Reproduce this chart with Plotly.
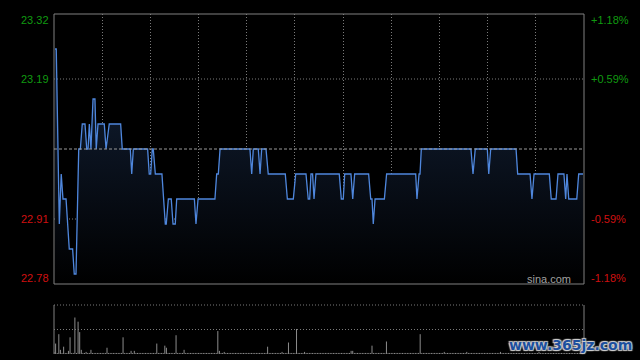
import plotly.graph_objects as go

W, H = 640, 360

# ---- data ----
prev_close = 23.05
price_levels = [22.78, 22.91, 23.19, 23.32]
pct_labels = ["-1.18%", "-0.59%", "+0.59%", "+1.18%"]
grid_minutes = [30, 60, 90, 120, 150, 180, 210, 240, 270, 300]
session_minutes = 330

price_minutes = [
    0.6, 1.4, 3.3, 4.5, 5.6, 7.5, 9.5, 11.6, 12.6, 13.7,
    15.4, 16.4, 17.6, 19.3, 20.4, 21.2, 22.0, 23.0, 24.3, 25.5,
    26.3, 27.4, 31.3, 32.4, 34.4, 41.5, 42.5, 47.5, 48.4, 49.4,
    58.3, 59.3, 60.2, 61.2, 61.8, 63.1, 67.2, 69.3, 69.9, 71.2,
    73.0, 74.1, 75.5, 76.4, 87.4, 88.4, 89.7, 100.2, 101.3, 102.3,
    103.4, 122.0, 123.1, 124.1, 127.2, 128.3, 129.3, 132.0, 133.4, 144.0,
    145.3, 149.0, 150.5, 156.9, 158.3, 159.2, 160.0, 161.0, 161.9, 163.1,
    177.6, 178.9, 180.1, 181.0, 184.9, 186.0, 187.2, 195.9, 197.2, 198.0,
    198.8, 199.9, 205.7, 207.1, 225.2, 226.0, 227.3, 227.9, 228.7, 259.6,
    260.9, 262.3, 269.8, 270.7, 271.9, 287.7, 288.7, 296.4, 297.6, 298.9,
    308.4, 309.6, 312.6, 313.8, 317.5, 318.6, 319.4, 320.5, 325.5, 326.7,
    329.4,
]
prices = [
    23.25, 23.25, 22.90, 23.00, 22.95, 22.95, 22.85, 22.85, 22.80, 22.80,
    23.05, 23.05, 23.10, 23.10, 23.05, 23.05, 23.10, 23.05, 23.15, 23.15,
    23.05, 23.10, 23.10, 23.05, 23.10, 23.10, 23.05, 23.05, 23.00, 23.05,
    23.05, 23.00, 23.00, 23.05, 23.05, 23.00, 23.00, 22.90, 22.90, 22.95,
    22.95, 22.90, 22.90, 22.95, 22.95, 22.90, 22.95, 22.95, 23.00, 23.00,
    23.05, 23.05, 23.00, 23.05, 23.05, 23.00, 23.05, 23.05, 23.00, 23.00,
    22.95, 22.95, 23.00, 23.00, 22.95, 22.95, 23.00, 23.00, 22.95, 23.00,
    23.00, 22.95, 22.95, 23.00, 23.00, 22.95, 23.00, 23.00, 22.95, 22.95,
    22.90, 22.95, 22.95, 23.00, 23.00, 22.95, 23.00, 23.00, 23.05, 23.05,
    23.00, 23.05, 23.05, 23.00, 23.05, 23.05, 23.00, 23.00, 22.95, 23.00,
    23.00, 22.95, 22.95, 23.00, 23.00, 22.95, 23.00, 22.95, 22.95, 23.00,
    23.00,
]

volumes = [
    2, 10, 1, 19, 4, 1, 7, 1, 1, 3, 16, 1, 1, 35, 1, 31, 21, 4, 1, 1, 2, 1, 1, 4, 1, 1, 1, 1, 1, 1,
    1, 1, 1, 6, 1, 1, 1, 1, 1, 1, 1, 1, 1, 16, 1, 1, 1, 1, 3, 1, 3, 1, 1, 1, 1, 1, 1, 1, 1, 1,
    1, 1, 1, 1, 10, 1, 1, 1, 1, 8, 6, 1, 1, 1, 1, 1, 18, 1, 1, 1, 1, 4, 1, 1, 1, 1, 1, 1, 1, 1,
    1, 1, 1, 1, 1, 1, 1, 1, 1, 1, 1, 1, 22, 3, 1, 1, 2, 1, 1, 1, 1, 1, 1, 1, 1, 1, 1, 1, 1, 1,
    1, 1, 1, 1, 1, 1, 1, 1, 1, 1, 1, 1, 1, 7, 1, 1, 1, 1, 1, 1, 1, 1, 2, 1, 1, 1, 11, 1, 1, 1,
    1, 24, 1, 1, 1, 1, 2, 1, 1, 1, 1, 1, 1, 1, 1, 1, 1, 1, 1, 1, 1, 1, 1, 1, 1, 1, 1, 1, 1, 1,
    1, 1, 1, 1, 1, 3, 3, 1, 1, 1, 1, 1, 1, 1, 1, 1, 1, 1, 8, 1, 1, 1, 1, 1, 1, 1, 1, 12, 1, 1,
    1, 1, 1, 1, 1, 1, 1, 1, 1, 1, 1, 1, 1, 1, 1, 1, 1, 1, 19, 1, 1, 1, 1, 1, 1, 1, 1, 1, 1, 1,
    1, 1, 1, 2, 1, 1, 1, 1, 1, 1, 1, 1, 1, 1, 1, 1, 1, 2, 1, 1, 1, 1, 1, 1, 1, 1, 1, 1, 1, 1,
    1, 1, 1, 1, 1, 1, 1, 1, 2, 1, 1, 1, 1, 1, 1, 1, 1, 1, 1, 1, 1, 1, 1, 1, 1, 1, 1, 1, 1, 1,
    1, 1, 2, 1, 1, 1, 1, 1, 1, 1, 1, 1, 1, 1, 1, 1, 1, 1, 1, 1, 1, 1, 1, 1, 1, 1, 1, 1, 1, 1,
]
vol_max = 47

# ---- layout geometry (pixels) ----
PX_L, PX_R = 54, 584
PR_T, PR_B = 14, 284
VO_T, VO_B = 305, 354

xd = [PX_L / W, PX_R / W]
yd_price = [1 - PR_B / H, 1 - PR_T / H]
yd_vol = [1 - VO_B / H, 1 - VO_T / H]

GREEN = "#109a10"
RED = "#d01010"
GRID = "#7a7a7a"
BORDER = "#808080"
FONT = "Liberation Sans, Arial, sans-serif"

fig = go.Figure()

fig.add_trace(go.Scatter(
    x=price_minutes, y=prices, mode="lines",
    line=dict(color="#4f87dd", width=1.3),
    fill="tozeroy",
    fillgradient=dict(type="vertical",
                      colorscale=[[0, "#000000"], [1, "#0f1a2c"]],
                      start=price_levels[0], stop=23.15),
    xaxis="x", yaxis="y", hoverinfo="skip",
))

# volume as vertical 1px sticks (one per minute)
vx, vy = [], []
for i, v in enumerate(volumes):
    vx += [i, i, None]
    vy += [0, v, None]
fig.add_trace(go.Scatter(
    x=vx, y=vy, mode="lines", connectgaps=False,
    line=dict(color="#8c8c8c", width=1),
    xaxis="x2", yaxis="y2", hoverinfo="skip",
))

shapes = []
# price panel border
shapes.append(dict(type="rect", xref="paper", yref="paper",
                   x0=xd[0], x1=xd[1], y0=yd_price[0], y1=yd_price[1],
                   line=dict(color=BORDER, width=1), layer="above"))
# horizontal grid
for lv in price_levels[1:3]:
    shapes.append(dict(type="line", xref="x", yref="y", x0=0, x1=session_minutes,
                       y0=lv, y1=lv, line=dict(color=GRID, width=1, dash="1px,2px"),
                       layer="below"))
shapes.append(dict(type="line", xref="x", yref="y", x0=0, x1=session_minutes,
                   y0=prev_close, y1=prev_close,
                   line=dict(color="#9a9a9a", width=1, dash="3px,2px"), layer="above"))
# volume panel lines
for yy in [VO_T, (VO_T + VO_B) / 2]:
    shapes.append(dict(type="line", xref="paper", yref="paper", x0=xd[0], x1=xd[1],
                       y0=1 - yy / H, y1=1 - yy / H,
                       line=dict(color=GRID, width=1, dash="1px,2px")))
for xx in xd:
    shapes.append(dict(type="line", xref="paper", yref="paper", x0=xx, x1=xx,
                       y0=yd_vol[0], y1=yd_vol[1], line=dict(color=BORDER, width=1)))

annotations = []
shifts = [6, 0, 0, -6]
for lv, pct, sh in zip(price_levels, pct_labels, shifts):
    col = GREEN if lv > prev_close else RED
    annotations.append(dict(xref="paper", yref="y", x=51 / W, y=lv, yshift=sh,
                            text=f"{lv:.2f}", showarrow=False, xanchor="right",
                            yanchor="middle", font=dict(color=col, size=11, family=FONT)))
    annotations.append(dict(xref="paper", yref="y", x=589 / W, y=lv, yshift=sh,
                            text=pct, showarrow=False, xanchor="left",
                            yanchor="middle", font=dict(color=col, size=11, family=FONT)))
annotations.append(dict(xref="paper", yref="paper", x=573 / W, y=1 - 279 / H,
                        text="sina.com", showarrow=False, xanchor="right", yanchor="middle",
                        font=dict(color="#a0a0a0", size=11, family=FONT)))
annotations.append(dict(xref="paper", yref="paper", x=634 / W, y=1 - 345 / H,
                        text="<b>www.365jz.com</b>", showarrow=False, xanchor="right",
                        yanchor="middle",
                        font=dict(color="#1c4f9e", size=14, family="DejaVu Sans",
                                  shadow="1px 1px 1px #d0d0d0, -1px -1px 1px #d0d0d0, 1px -1px 1px #d0d0d0, -1px 1px 1px #d0d0d0")))

axis_common = dict(showticklabels=False, ticks="", zeroline=False, showline=False,
                   fixedrange=True)

fig.update_layout(
    width=W, height=H,
    margin=dict(l=0, r=0, t=0, b=0),
    paper_bgcolor="#000000", plot_bgcolor="#000000",
    showlegend=False,
    xaxis=dict(domain=xd, range=[0, session_minutes], anchor="y",
               tickvals=grid_minutes, showgrid=True, gridcolor=GRID,
               griddash="1px,2px", gridwidth=1, **axis_common),
    yaxis=dict(domain=yd_price, range=[price_levels[0], price_levels[-1]], anchor="x",
               showgrid=False, **axis_common),
    xaxis2=dict(domain=xd, range=[0, session_minutes], anchor="y2",
                showgrid=False, **axis_common),
    yaxis2=dict(domain=yd_vol, range=[0, vol_max], anchor="x2",
                showgrid=False, **axis_common),
    shapes=shapes,
    annotations=annotations,
)

fig.write_html("out.html")
